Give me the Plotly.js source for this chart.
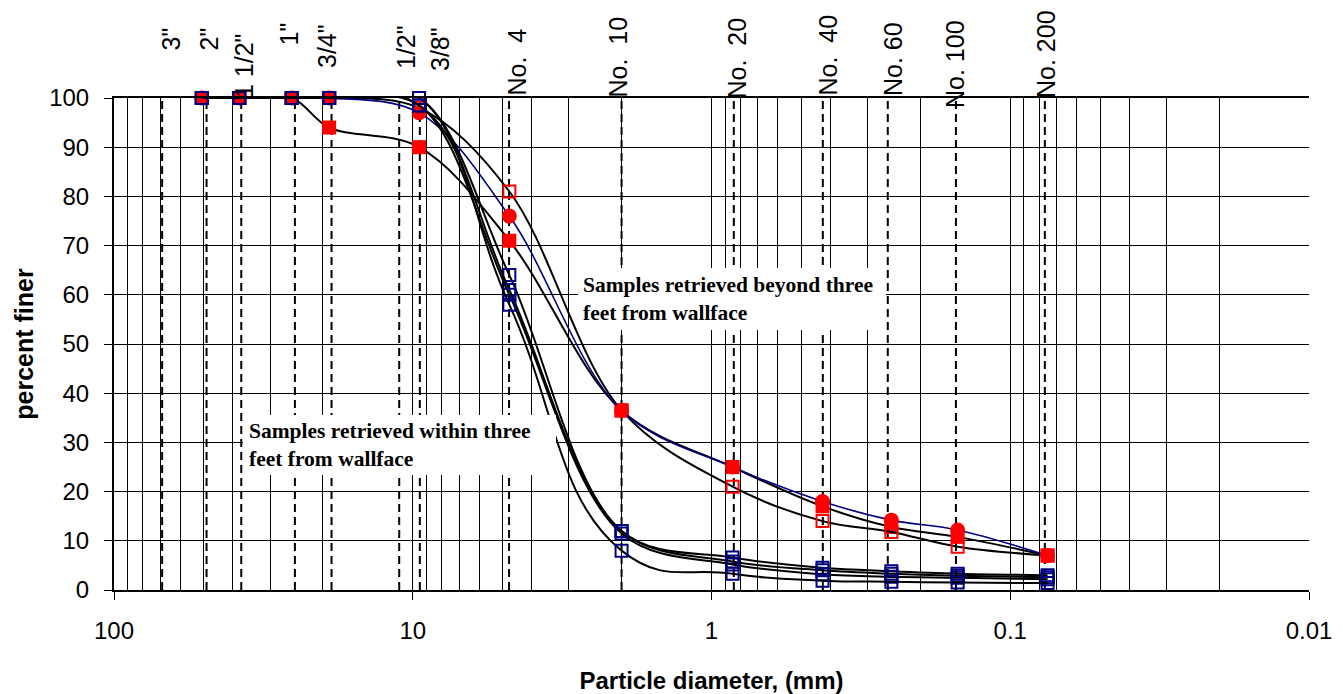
<!DOCTYPE html>
<html>
<head>
<meta charset="utf-8">
<script src="https://cdn.plot.ly/plotly-3.0.1.min.js"></script>
<style>
html,body{margin:0;padding:0;background:#fff;}
#chart{width:1343px;height:694px;}
</style>
</head>
<body>
<div id="chart"></div>
<script>
// ---------- DATA ----------
// sieve openings (mm) where the gradation points were measured
const sizesMm = [50.8, 38.1, 25.4, 19.05, 9.525, 4.75, 2.0, 0.85, 0.425, 0.25, 0.15, 0.075];

// samples retrieved beyond three feet from wallface (red)
const beyondFilledSquare = [100, 100, 100, 94, 90, 71, 36.5, 25, 17, 12.8, 10.8, 7];
const beyondOpenSquare   = [100, 100, 100, 100, 98, 81, 36.5, 21, 14, 11.8, 8.8, 7];
const beyondCircle       = [100, 100, 100, 100, 97, 76, 36.5, 25, 18, 14.2, 12.2, 7];

// samples retrieved within three feet from wallface (navy open squares)
const withinA = [100, 100, 100, 100, 100, 64, 12, 6.6, 4.5, 3.8, 3.3, 3.0];
const withinB = [100, 100, 100, 100, 100, 61, 12, 5.8, 4.0, 3.3, 2.9, 2.6];
const withinC = [100, 100, 100, 100, 98.5, 60, 11.5, 5.2, 3.2, 2.7, 2.5, 2.2];
const withinD = [100, 100, 100, 100, 98.5, 58, 8, 3.3, 1.9, 1.7, 1.5, 1.4];

// reference sieve lines (mm, as drawn) and their labels
const sieveLineMm  = [69, 49, 37.5, 24.8, 18.7, 11.1, 9.47, 4.76, 2.0, 0.842, 0.424, 0.257, 0.152, 0.0766];
const sieveLabels  = ['3"', '2"', '1 1/2"', '1"', '3/4"', '1/2"', '3/8"',
                      'No.\u00a0\u00a04', 'No.\u00a0\u00a010', 'No.\u00a0\u00a020', 'No.\u00a0\u00a040',
                      'No. 60', 'No. 100', 'No. 200'];

// axis ticks
const xTickVals = [100, 10, 1, 0.1, 0.01];
const xTickText = ['100', '10', '1', '0.1', '0.01'];

// ---------- LAYOUT HELPERS ----------
const W = 1343, H = 694, ML = 114, MR = 34, MT = 98, MB = 104;
const PW = W - ML - MR, PH = H - MT - MB;
const px2x = px => (px - ML) / PW;
const px2y = py => (H - MB - py) / PH;

// label placement (pixel centre x, pixel bottom y) for the rotated sieve labels
const labelCx = [171, 209, 244, 288, 327, 406, 440, 516, 618, 737, 827, 893, 955, 1046];
const labelBottom = [50, 50, 97, 45, 67, 68, 70, 95, 97, 97, 95, 95, 107, 97];

const FONT = 'Liberation Sans, Arial, sans-serif';
const SERIF = 'Liberation Serif, Times New Roman, serif';
const RED = '#ff0000', NAVY = '#000080';

// minor log grid values 2..9 per decade
const minorVals = [];
for (let d = -2; d < 2; d++) for (let k = 2; k <= 9; k++) minorVals.push(k * Math.pow(10, d));

const traces = [];
// dashed sieve lines
sieveLineMm.forEach(s => {
  traces.push({
    x: [s, s], y: [0, 100], mode: 'lines', hoverinfo: 'skip', showlegend: false,
    line: {color: '#000', width: 2, dash: '8px,5px'}
  });
});

function series(y, marker, lineColor, lineWidth, smoothing) {
  return {
    x: sizesMm, y: y, mode: 'lines+markers', showlegend: false, cliponaxis: false,
    line: {shape: 'spline', smoothing: smoothing || 1, color: lineColor, width: lineWidth},
    marker: marker
  };
}
traces.push(series(beyondFilledSquare, {symbol: 'square', size: 14, color: RED}, '#000', 2));
traces.push(series(beyondOpenSquare, {symbol: 'square-open', size: 12, color: RED, line: {width: 2, color: RED}}, '#000', 2));
traces.push(series(beyondCircle, {symbol: 'circle', size: 15, color: RED}, NAVY, 1.6));
const navyOpen = {symbol: 'square-open', size: 12, color: NAVY, line: {width: 2, color: NAVY}};
traces.push(series(withinA, navyOpen, '#000', 2));
traces.push(series(withinB, navyOpen, '#000', 2));
traces.push(series(withinC, navyOpen, '#000', 2));
traces.push(series(withinD, navyOpen, '#000', 2, 1.3));

const annotations = sieveLabels.map((t, i) => ({
  xref: 'paper', yref: 'paper', x: px2x(labelCx[i]), y: px2y(labelBottom[i] + 3),
  xanchor: 'center', yanchor: 'bottom', textangle: -90, showarrow: false,
  text: t, font: {family: FONT, size: 25, color: '#000'}
}));

annotations.push({
  xref: 'paper', yref: 'paper', x: px2x(243), y: px2y(415), xanchor: 'left', yanchor: 'top',
  showarrow: false, align: 'left', bgcolor: '#fff', borderpad: 6, borderwidth: 0,
  width: 301, height: 48,
  text: '<b>Samples retrieved within three<br>feet from wallface</b>',
  font: {family: SERIF, size: 21.5, color: '#000'}
});
annotations.push({
  xref: 'paper', yref: 'paper', x: px2x(578), y: px2y(268), xanchor: 'left', yanchor: 'top',
  showarrow: false, align: 'left', bgcolor: '#fff', borderpad: 5, borderwidth: 0,
  width: 298, height: 52,
  text: '<b>Samples retrieved beyond three<br>feet from wallface</b>',
  font: {family: SERIF, size: 21.5, color: '#000'}
});

const layout = {
  width: W, height: H,
  margin: {l: ML, r: MR, t: MT, b: MB, pad: 0},
  paper_bgcolor: '#fff', plot_bgcolor: '#fff',
  showlegend: false,
  font: {family: FONT, color: '#000'},
  xaxis: {
    type: 'log', range: [2, -2], autorange: false,
    tickmode: 'array', tickvals: xTickVals, ticktext: xTickText,
    ticks: 'outside', ticklen: 8, tickwidth: 1, tickcolor: '#000',
    tickfont: {family: FONT, size: 24, color: '#000'},
    ticklabelstandoff: 10,
    showline: true, linecolor: '#000', linewidth: 2, mirror: true,
    showgrid: true, gridcolor: '#000', gridwidth: 1,
    minor: {tickmode: 'array', tickvals: minorVals, showgrid: true, gridcolor: '#000', gridwidth: 1, ticks: ''},
    zeroline: false,
    title: {text: '<b>Particle diameter, (mm)</b>', font: {family: FONT, size: 24, color: '#000'}, standoff: 29}
  },
  yaxis: {
    range: [0, 100], autorange: false, tickmode: 'linear', tick0: 0, dtick: 10,
    ticks: 'outside', ticklen: 8, tickwidth: 1, tickcolor: '#000',
    tickfont: {family: FONT, size: 24, color: '#000'},
    ticklabelstandoff: 10,
    showline: true, linecolor: '#000', linewidth: 2,
    showgrid: true, gridcolor: '#000', gridwidth: 1, zeroline: false,
    title: {text: '<b>percent finer</b>', font: {family: FONT, size: 25, color: '#000'}, standoff: 8}
  },
  annotations: annotations
};

Plotly.newPlot('chart', traces, layout, {displayModeBar: false, staticPlot: true});
</script>
</body>
</html>
